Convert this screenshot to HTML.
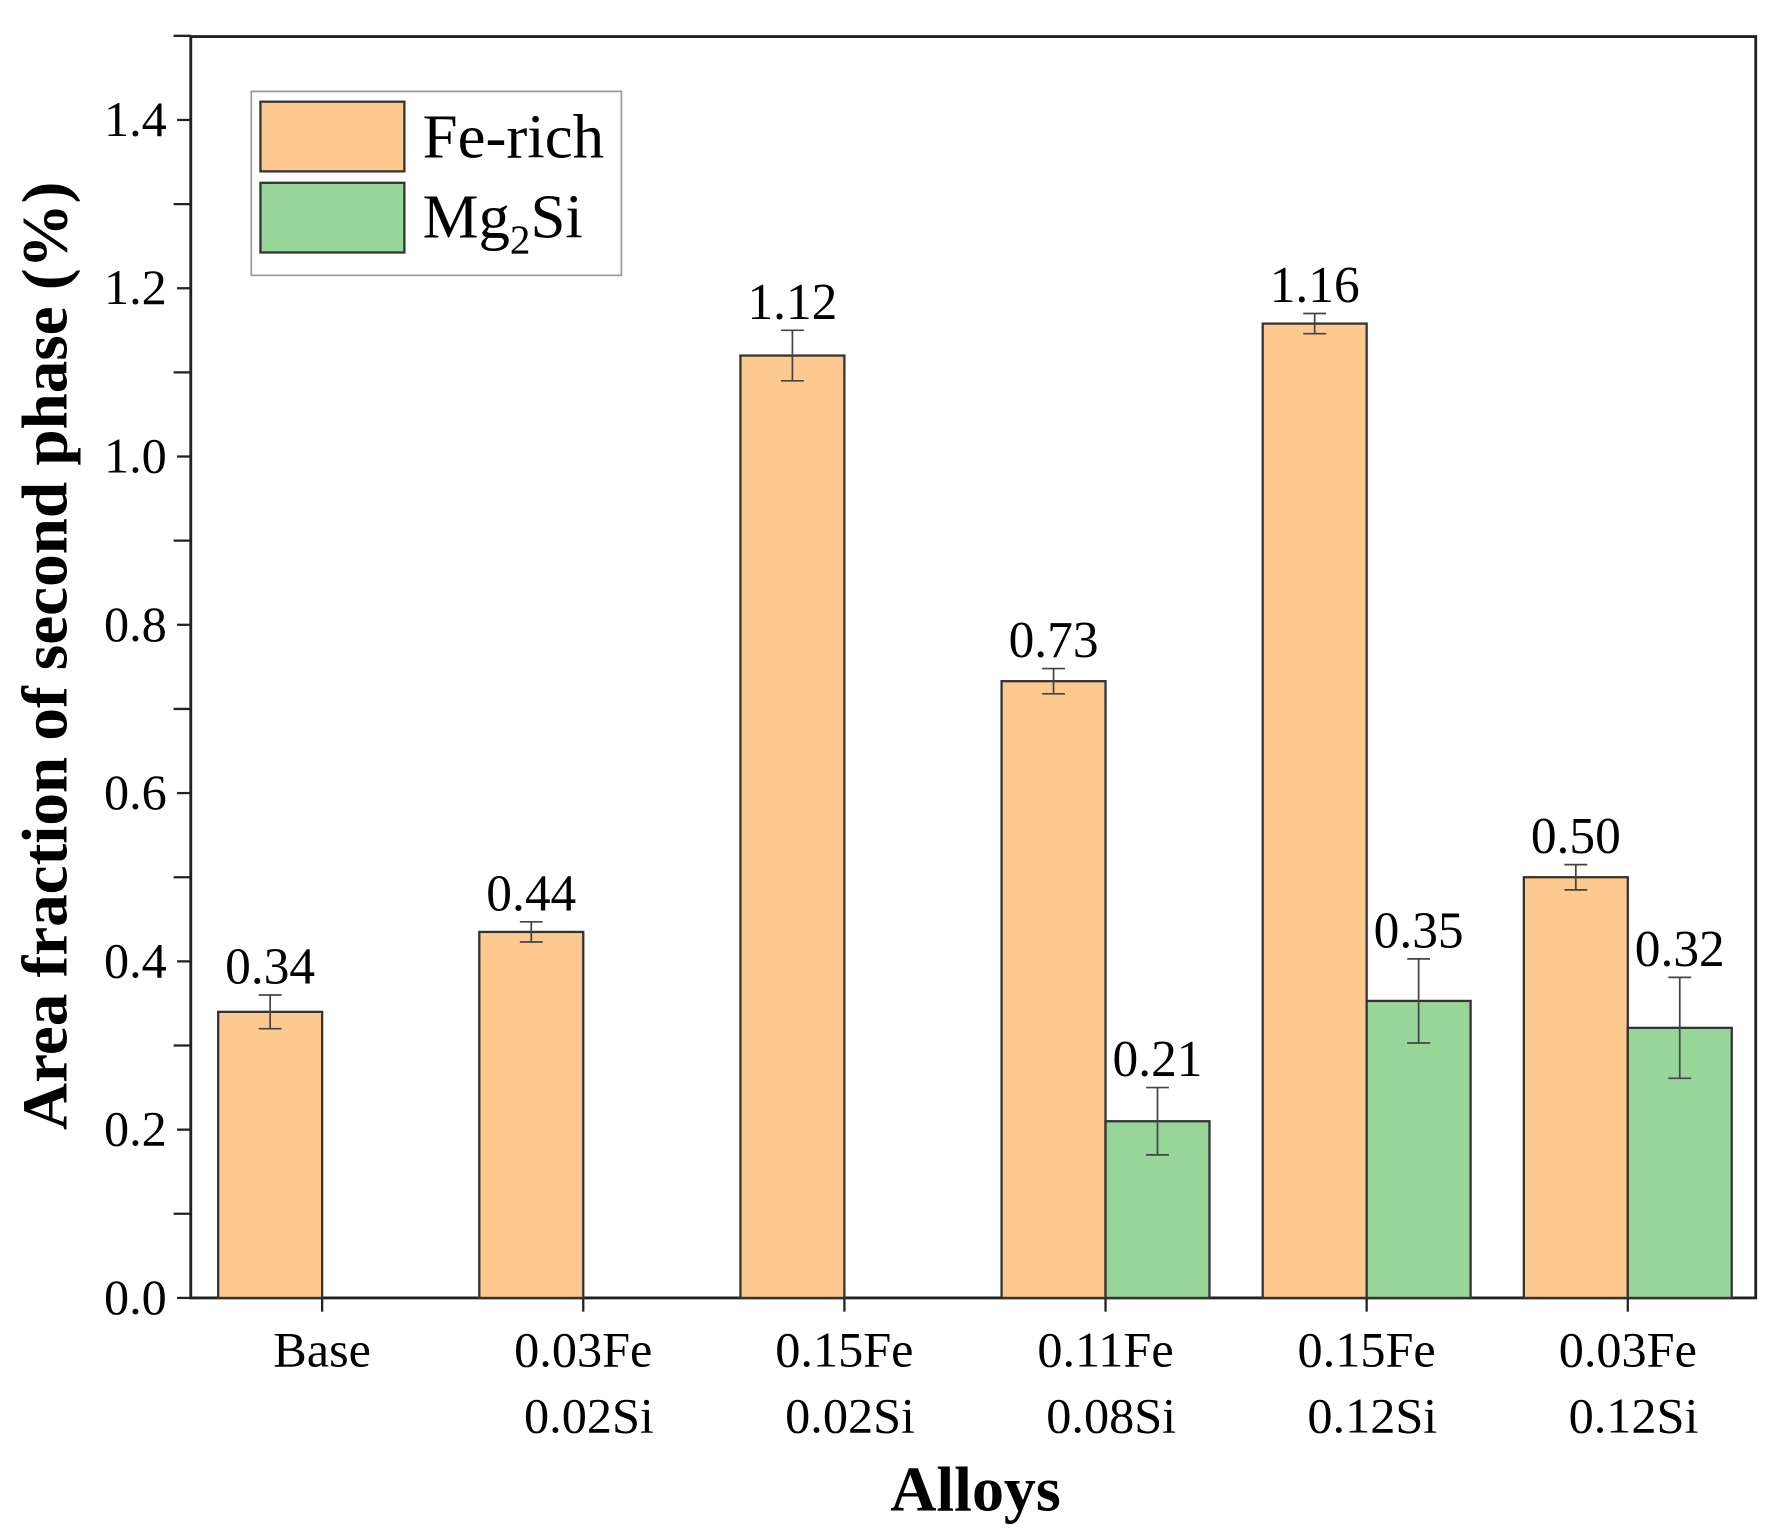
<!DOCTYPE html>
<html><head><meta charset="utf-8"><style>
html,body{margin:0;padding:0;background:#fff;}
svg{display:block;font-family:"Liberation Serif",serif;}
</style></head><body>
<svg id="chart" width="1782" height="1539" viewBox="0 0 1560 1347" preserveAspectRatio="none" xmlns="http://www.w3.org/2000/svg">
<rect x="167" y="32" width="1370" height="1104" fill="none" stroke="#222" stroke-width="2.5"/>
<g id="ticks"></g><g id="bars"></g>
<text x="45" y="574" transform="rotate(-90 45 574)" text-anchor="middle" font-size="57" font-weight="bold" dominant-baseline="middle">Area fraction of second phase (%)</text>
<text x="854" y="1322" text-anchor="middle" font-size="56" font-weight="bold">Alloys</text>
<g>
<rect x="220" y="80" width="324" height="161" fill="#fff" stroke="#999" stroke-width="1.5"/>
<rect x="228" y="89" width="126" height="61" fill="#fdc98e" stroke="#333" stroke-width="2"/>
<text x="370" y="138" font-size="55">Fe-rich</text>
<rect x="228" y="160" width="126" height="61" fill="#98d598" stroke="#333" stroke-width="2"/>
<text x="370" y="208" font-size="55">Mg<tspan font-size="36" dy="14">2</tspan><tspan dy="-14">Si</tspan></text>
</g>
</svg>
<script>
const categories=[["Base"],["0.03Fe","0.02Si"],["0.15Fe","0.02Si"],["0.11Fe","0.08Si"],["0.15Fe","0.12Si"],["0.03Fe","0.12Si"]];
const feValues=[0.34,0.435,1.12,0.733,1.158,0.50];
const feErrors=[0.02,0.012,0.03,0.015,0.012,0.015];
const feLabels=["0.34","0.44","1.12","0.73","1.16","0.50"];
const mgValues=[null,null,null,0.21,0.353,0.321];
const mgErrors=[null,null,null,0.04,0.05,0.06];
const mgLabels=["","","","0.21","0.35","0.32"];
const yTicks=[0,0.2,0.4,0.6,0.8,1.0,1.2,1.4];
const yTickLabels=["0.0","0.2","0.4","0.6","0.8","1.0","1.2","1.4"];
const NS="http://www.w3.org/2000/svg";
const y0=1136,yPer=(1136-105)/1.4;
const Y=v=>y0-v*yPer;
const X=i=>282+i*228.6;
const BW=91;
function mk(p,tag,a){const e=document.createElementNS(NS,tag);for(const k in a)e.setAttribute(k,a[k]);p.appendChild(e);return e;}
const tk=document.getElementById('ticks'),bg=document.getElementById('bars');
for(let v=0;v<=1.5001;v+=0.1){const t=mk(tk,'line',{x1:Math.abs(Math.round(v*10)%2)?152:155,x2:167,y1:Y(v),y2:Y(v),stroke:'#222','stroke-width':2});

}
yTicks.forEach((v,i)=>{const t=mk(tk,'text',{x:146,y:Y(v)+14,'text-anchor':'end','font-size':44});t.textContent=yTickLabels[i];

});
categories.forEach((c,i)=>{mk(tk,'line',{x1:X(i),x2:X(i),y1:1136,y2:1148,stroke:'#222','stroke-width':2});
c.forEach((s,j)=>{const t=mk(tk,'text',{x:X(i)+(j?5:0),y:1196+j*58,'text-anchor':'middle','font-size':44});t.textContent=s;

});});
function bar(v,e,lab,x,fill,name){
const r=mk(bg,'rect',{x:x,y:Y(v),width:BW,height:y0-Y(v),fill:fill,stroke:'#333','stroke-width':2});


const cx=x+BW/2;
mk(bg,'line',{x1:cx,x2:cx,y1:Y(v+e),y2:Y(v-e),stroke:'#444','stroke-width':1.5});
mk(bg,'line',{x1:cx-10,x2:cx+10,y1:Y(v+e),y2:Y(v+e),stroke:'#444','stroke-width':1.5});
mk(bg,'line',{x1:cx-10,x2:cx+10,y1:Y(v-e),y2:Y(v-e),stroke:'#444','stroke-width':1.5});
const t=mk(bg,'text',{x:cx,y:Y(v+e)-10,'text-anchor':'middle','font-size':45});t.textContent=lab;

}
categories.forEach((c,i)=>{bar(feValues[i],feErrors[i],feLabels[i],X(i)-BW,'#fdc98e','bar-fe-rich');
if(mgValues[i]!=null)bar(mgValues[i],mgErrors[i],mgLabels[i],X(i),'#98d598','bar-mg2si');});
</script>
</body></html>
